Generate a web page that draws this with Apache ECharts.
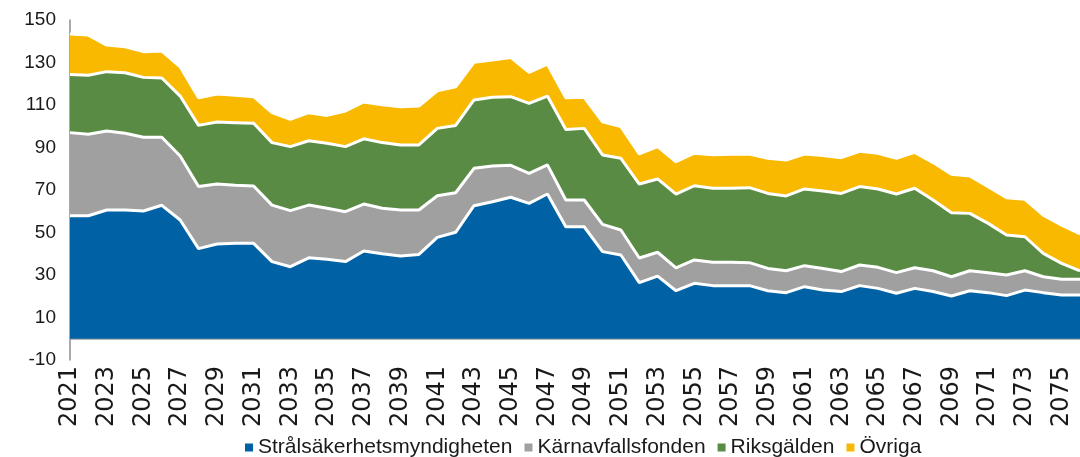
<!DOCTYPE html>
<html>
<head>
<meta charset="utf-8">
<script src="https://cdn.jsdelivr.net/npm/echarts@6/dist/echarts.min.js"></script>
<style>
  html, body { margin: 0; padding: 0; background: #fff; }
  #chart { width: 1080px; height: 457px; }
</style>
</head>
<body>
<div id="chart"></div>
<script>
// år 2021–2076 (the last year lies just outside the visible frame)
const years = ['2021','2022','2023','2024','2025','2026','2027','2028','2029','2030',
  '2031','2032','2033','2034','2035','2036','2037','2038','2039','2040',
  '2041','2042','2043','2044','2045','2046','2047','2048','2049','2050',
  '2051','2052','2053','2054','2055','2056','2057','2058','2059','2060',
  '2061','2062','2063','2064','2065','2066','2067','2068','2069','2070',
  '2071','2072','2073','2074','2075','2076'];

const ssm = [57.9, 57.9, 60.6, 60.6, 60.1, 62.8, 55.9, 42.4, 44.6, 44.9,
  44.9, 36.3, 33.9, 38.1, 37.4, 36.3, 41.3, 40.0, 38.9, 39.7,
  47.7, 50.1, 62.6, 64.5, 66.6, 63.7, 68.1, 52.7, 52.7, 41.0,
  39.4, 26.4, 29.5, 22.6, 26.1, 25.0, 25.0, 25.0, 22.6, 21.7,
  24.5, 22.9, 22.2, 25.0, 23.7, 21.4, 23.7, 22.2, 20.1, 22.6,
  21.7, 20.3, 22.9, 21.7, 20.6, 20.6];

const karnavfall = [39.1, 38.3, 37.2, 36.1, 34.7, 32.0, 30.1, 29.2, 28.2, 27.3,
  27.0, 26.6, 26.4, 24.8, 24.0, 23.5, 22.1, 21.4, 21.7, 20.9,
  19.6, 18.6, 17.6, 16.8, 15.0, 14.1, 13.7, 12.6, 12.6, 12.8,
  11.8, 11.6, 11.2, 10.8, 11.0, 11.0, 11.0, 10.8, 10.5, 10.3,
  9.9, 10.2, 9.4, 9.7, 9.9, 9.7, 9.7, 9.8, 9.1, 9.4,
  9.4, 9.7, 9.1, 7.5, 7.4, 7.4];

const riksgalden = [27.4, 27.8, 27.9, 28.5, 28.2, 27.9, 28.2, 28.8, 29.2, 29.5,
  29.5, 29.4, 30.1, 30.3, 30.6, 30.6, 30.7, 30.9, 30.6, 30.6,
  31.7, 31.7, 32.2, 32.3, 32.3, 33.0, 32.4, 33.2, 33.7, 32.7,
  33.7, 34.8, 34.5, 34.7, 34.9, 34.8, 34.8, 35.3, 35.3, 35.2,
  36.1, 36.4, 36.8, 36.9, 36.9, 37.0, 37.4, 33.3, 30.1, 27.0,
  23.2, 18.8, 16.0, 11.0, 7.5, 4.0];

const ovriga = [19.0, 18.9, 12.5, 12.2, 12.1, 12.7, 13.8, 13.0, 13.2, 12.9,
  12.5, 14.1, 12.9, 13.2, 13.1, 16.8, 17.3, 17.8, 18.0, 18.3,
  17.7, 18.2, 17.7, 17.6, 18.5, 14.6, 15.0, 14.9, 14.6, 15.6,
  14.9, 14.2, 15.2, 15.2, 15.3, 15.8, 16.0, 15.8, 16.5, 16.9,
  16.4, 16.7, 16.8, 16.6, 16.8, 16.8, 16.9, 17.6, 18.1, 17.6,
  17.3, 17.6, 17.6, 18.0, 18.0, 17.3];

const seriesNames = ['Strålsäkerhetsmyndigheten', 'Kärnavfallsfonden', 'Riksgälden', 'Övriga'];
const colors = ['#0062a5', '#a0a0a0', '#5a8b45', '#f8b900'];

const narrow = "'Liberation Sans Narrow', 'Arial Narrow', 'Liberation Sans', sans-serif";

const chart = echarts.init(document.getElementById('chart'), null, { renderer: 'canvas' });

function areaSeries(name, data, idx) {
  const s = {
    name: name,
    type: 'line',
    stack: 'total',
    data: data,
    z: 10 - idx, // lower bands on top so each white edge stays visible
    showSymbol: false,
    symbol: 'none',
    lineStyle: { color: '#fff', width: 3 },
    areaStyle: { color: colors[idx], opacity: 1 },
    itemStyle: { color: colors[idx] },
    emphasis: { disabled: true }
  };
  if (idx === 0) {
    s.markLine = {
      silent: true,
      symbol: 'none',
      label: { show: false },
      lineStyle: { color: '#9a9a9a', type: 'solid', width: 1.5 },
      data: [{ yAxis: 0 }]
    };
  }
  return s;
}

chart.setOption({
  animation: false,
  backgroundColor: '#fff',
  color: colors,
  grid: { left: 70, right: -10, top: 20, bottom: 97 },
  legend: {
    left: 240,
    top: 432,
    icon: 'rect',
    itemWidth: 8,
    itemHeight: 8,
    itemGap: 12,
    textStyle: { fontFamily: narrow, fontSize: 21, color: '#1a1a1a' },
    data: seriesNames
  },
  xAxis: {
    type: 'category',
    data: years,
    boundaryGap: false,
    axisLine: { show: false, onZero: false },
    axisTick: { show: false },
    axisLabel: {
      interval: 1,
      rotate: 90,
      margin: 6,
      fontFamily: "'DejaVu Sans', sans-serif",
      fontSize: 24,
      color: '#1a1a1a'
    }
  },
  yAxis: {
    type: 'value',
    min: -10,
    max: 150,
    interval: 20,
    axisLine: { show: true, lineStyle: { color: '#8c8c8c', width: 1.5 } },
    axisTick: { show: false },
    splitLine: { show: false },
    axisLabel: { margin: 14, fontFamily: "'Liberation Sans', sans-serif", fontSize: 19, color: '#1a1a1a' }
  },
  series: [
    areaSeries(seriesNames[0], ssm, 0),
    areaSeries(seriesNames[1], karnavfall, 1),
    areaSeries(seriesNames[2], riksgalden, 2),
    areaSeries(seriesNames[3], ovriga, 3)
  ]
});

window.addEventListener('resize', () => chart.resize());
</script>
</body>
</html>
